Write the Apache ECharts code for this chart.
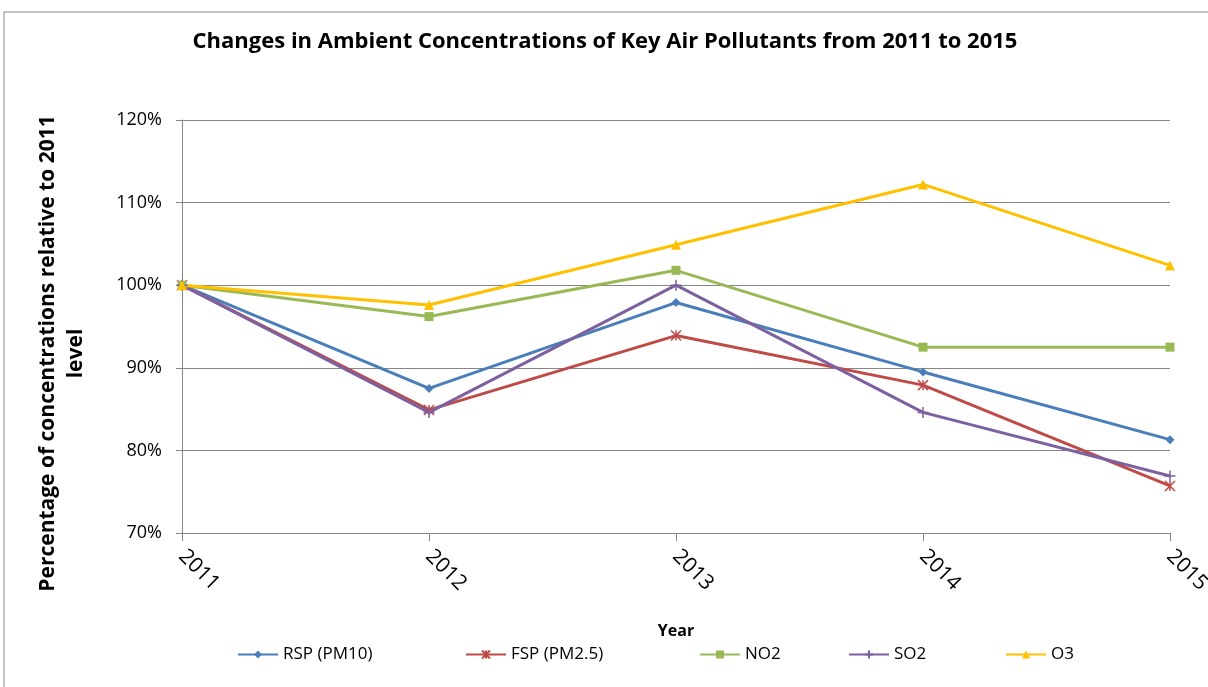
<!DOCTYPE html>
<html>
    <head>
        <meta charset="utf-8">
        <script src="https://cdn.jsdelivr.net/npm/echarts@6/dist/echarts.min.js"></script>
    </head>
    <body>
        <style>
            html, body, #main {
                width: 100%;
                height: 100%;
                margin: 0;
                background: #fff;
            }
        </style>
        <div id="main"></div>
        <script>
            var years = ['2011', '2012', '2013', '2014', '2015'];
            var rsp = [100, 87.5, 97.9, 89.5, 81.3];
            var fsp = [100, 84.9, 93.9, 87.9, 75.7];
            var no2 = [100, 96.2, 101.8, 92.5, 92.5];
            var so2 = [100, 84.6, 100, 84.6, 76.9];
            var o3 = [100, 97.6, 104.9, 112.2, 102.4];

            var names = ['RSP (PM10)', 'FSP (PM2.5)', 'NO2', 'SO2', 'O3'];
            var colors = ['#4a7ebb', '#be4b48', '#98b954', '#7d60a0', '#ffc000'];
            var legendLeft = [232, 460, 694, 843, 1000];

            var font = "'Open Sans', sans-serif";
            var starPath = 'path://M0,0L10,10M10,0L0,10M5,0L5,10';
            var plusPath = 'path://M5,0L5,10M0,5L10,5';
            var symbols = ['diamond', starPath, 'rect', plusPath, 'triangle'];
            var symbolSizes = [9, 10, 9, 11, 10];
            var allData = [rsp, fsp, no2, so2, o3];

            var chart = echarts.init(document.getElementById('main'));

            var series = allData.map(function (d, i) {
                var lineOnly = i === 1 || i === 3;
                return {
                    name: names[i],
                    type: 'line',
                    data: d,
                    symbol: symbols[i],
                    symbolSize: symbolSizes[i],
                    showAllSymbol: true,
                    lineStyle: { color: colors[i], width: 3 },
                    itemStyle: {
                        color: lineOnly ? 'rgba(0,0,0,0)' : colors[i],
                        borderColor: colors[i],
                        borderWidth: lineOnly ? 1.5 : 0
                    },
                    animation: false
                };
            });

            var legends = names.map(function (n, i) {
                return {
                    data: [n],
                    left: legendLeft[i],
                    top: 641,
                    itemWidth: 40,
                    itemHeight: 10,
                    itemGap: 4,
                    textStyle: { fontFamily: font, fontSize: 17, color: '#000' }
                };
            });

            chart.setOption({
                backgroundColor: '#fff',
                title: {
                    text: 'Changes in Ambient Concentrations of Key Air Pollutants from 2011 to 2015',
                    left: 600,
                    textAlign: 'center',
                    top: 26,
                    textStyle: { fontFamily: font, fontSize: 22, fontWeight: 'bold', color: '#000' }
                },
                legend: legends,
                graphic: [{
                    type: 'rect',
                    shape: { x: 4, y: 12, width: 1220, height: 690 },
                    style: { fill: 'none', stroke: '#868686', lineWidth: 1 },
                    silent: true
                }],
                grid: { left: 182, right: 38, top: 120, bottom: 154, outerBoundsMode: 'none' },
                xAxis: {
                    type: 'category',
                    data: years,
                    boundaryGap: false,
                    name: 'Year',
                    nameLocation: 'middle',
                    nameGap: 90,
                    nameTextStyle: { fontFamily: font, fontSize: 16, fontWeight: 'bold', color: '#000' },
                    axisLine: { lineStyle: { color: '#868686', width: 1 } },
                    axisTick: { show: true, length: 8, alignWithLabel: true, lineStyle: { color: '#868686' } },
                    axisLabel: { rotate: -45, fontFamily: font, fontSize: 21, color: '#000', margin: 20 },
                    splitLine: { show: false }
                },
                yAxis: {
                    type: 'value',
                    min: 70,
                    max: 120,
                    interval: 10,
                    name: 'Percentage of concentrations relative to 2011\nlevel',
                    nameLocation: 'middle',
                    nameGap: 92,
                    nameRotate: 90,
                    nameTextStyle: {
                        fontFamily: font, fontSize: 21, fontWeight: 'bold', color: '#000',
                        lineHeight: 28, align: 'center', padding: [0, 54, 0, 0]
                    },
                    axisLine: { show: true, lineStyle: { color: '#868686', width: 1 } },
                    axisTick: { show: true, length: 6, inside: false, lineStyle: { color: '#868686' } },
                    axisLabel: {
                        fontFamily: font, fontSize: 18, color: '#000', margin: 20,
                        formatter: function (v) { return v + '%'; }
                    },
                    splitLine: { lineStyle: { color: '#868686', width: 1 } }
                },
                series: series
            });
        </script>
    </body>
</html>
